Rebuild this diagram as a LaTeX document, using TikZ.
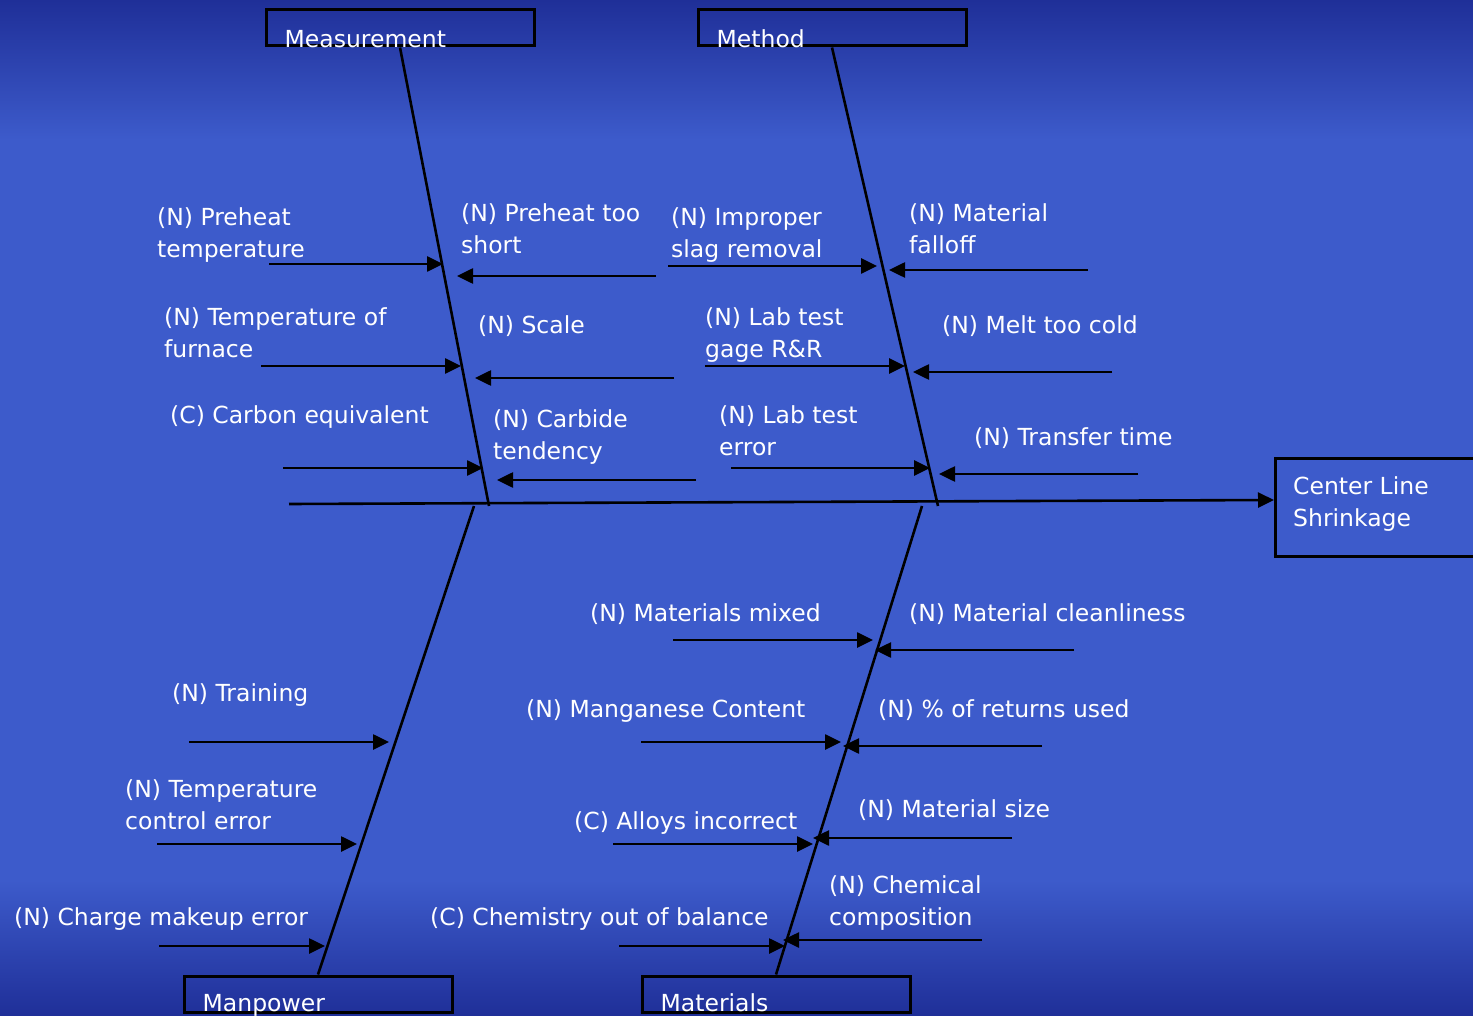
\documentclass[tikz,border=0pt]{standalone}
\usepackage{fontspec}
\setmainfont{DejaVu Sans}
\usetikzlibrary{arrows.meta,positioning,calc}
\definecolor{slideblue}{HTML}{3D5BCB}
\definecolor{slidedark}{HTML}{1F2F98}

\begin{document}
\begin{tikzpicture}[
  x=1pt,y=-1pt,
  font=\fontsize{23.5}{32.5}\selectfont,
  cat/.style={draw,line width=3pt,minimum width=268pt,minimum height=36pt,inner sep=0pt},
  catlbl/.style={text=white,anchor=base west,inner sep=0pt},
  lbl/.style={text=white,anchor=north west,align=left,inner sep=0pt},
  bone/.style={line width=2.6pt},
  cause/.style={line width=2.6pt,-{Triangle[length=16pt,width=15pt]}},
]
  % slide background
  \useasboundingbox (0,0) rectangle (1473,1016);
  \fill[slideblue] (0,0) rectangle (1473,1016);
  \shade[top color=slidedark,bottom color=slideblue] (0,0) rectangle (1473,140);
  \shade[top color=slideblue,bottom color=slidedark] (0,880) rectangle (1473,1016);

  % categories
  \node[cat] (meas) at (400,28)  {};
  \node[cat] (meth) at (832,28)  {};
  \node[cat] (man)  at (318,994) {};
  \node[cat] (mat)  at (776,994) {};
  \node[catlbl] (measlbl) at ([xshift=20pt]meas.south west) {Measurement};
  \node[catlbl] (methlbl) at ([xshift=20pt]meth.south west) {Method};
  \node[catlbl] (manlbl)  at ([xshift=20pt,yshift=2pt]man.south west) {Manpower};
  \node[catlbl] (matlbl)  at ([xshift=20pt,yshift=2pt]mat.south west) {Materials};

  % effect
  \node[draw,line width=3pt,minimum width=212pt,minimum height=98pt,anchor=west]
       (effect) at (1274,507) {};
  \node[lbl] (efflbl) at (1293,476) {Center Line\\Shrinkage};

  % spine and bones
  \coordinate (tail) at (289,504);
  \coordinate (measend) at (489,506);
  \coordinate (methend) at (938,506);
  \coordinate (manend)  at (474,506);
  \coordinate (matend)  at (922,506);
  \draw[cause] (tail) -- ([yshift=7pt]effect.west);
  \draw[bone] (meas.south) -- (measend);
  \draw[bone] (meth.south) -- (methend);
  \draw[bone] (man.north) -- (manend);
  \draw[bone] (mat.north) -- (matend);

  % causes
  \foreach \n/\xa/\xb/\y in {m1/269/443/264, m2/261/461/366, m3/283/483/468,
      m4/656/457/276, m5/674/475/378, m6/696/497/480,
      t1/668/877/266, t2/705/905/366, t3/731/930/468,
      t4/1088/889/270, t5/1112/913/372, t6/1138/939/474,
      p1/189/389/742, p2/157/357/844, p3/159/325/946,
      r1/673/873/640, r2/641/841/742, r3/613/813/844, r4/619/785/946,
      r5/1074/875/650, r6/1042/843/746, r7/1012/813/838, r8/982/783/940} {
    \coordinate (\n a) at (\xa,\y);
    \coordinate (\n b) at (\xb,\y);
    \draw[cause] (\n a) -- (\n b);
  }

  \node[lbl] (l1)  at (157,207) {(N) Preheat\\temperature};
  \node[lbl] (l2)  at (164,307) {(N) Temperature of\\furnace};
  \node[lbl] (l3)  at (170,405) {(C) Carbon equivalent};
  \node[lbl] (l4)  at (461,203) {(N) Preheat too\\short};
  \node[lbl] (l5)  at (478,315) {(N) Scale};
  \node[lbl] (l6)  at (493,409) {(N) Carbide\\tendency};
  \node[lbl] (l7)  at (671,207) {(N) Improper\\slag removal};
  \node[lbl] (l8)  at (705,307) {(N) Lab test\\gage R\&R};
  \node[lbl] (l9)  at (719,405) {(N) Lab test\\error};
  \node[lbl] (l10) at (909,203) {(N) Material\\falloff};
  \node[lbl] (l11) at (942,315) {(N) Melt too cold};
  \node[lbl] (l12) at (974,427) {(N) Transfer time};
  \node[lbl] (l13) at (172,683) {(N) Training};
  \node[lbl] (l14) at (125,779) {(N) Temperature\\control error};
  \node[lbl] (l15) at (14,907)  {(N) Charge makeup error};
  \node[lbl] (l16) at (590,603) {(N) Materials mixed};
  \node[lbl] (l17) at (526,699) {(N) Manganese Content};
  \node[lbl] (l18) at (574,811) {(C) Alloys incorrect};
  \node[lbl] (l19) at (430,907) {(C) Chemistry out of balance};
  \node[lbl] (l20) at (909,603) {(N) Material cleanliness};
  \node[lbl] (l21) at (878,699) {(N) \% of returns used};
  \node[lbl] (l22) at (858,799) {(N) Material size};
  \node[lbl] (l23) at (829,875) {(N) Chemical\\composition};
\end{tikzpicture}
\end{document}
